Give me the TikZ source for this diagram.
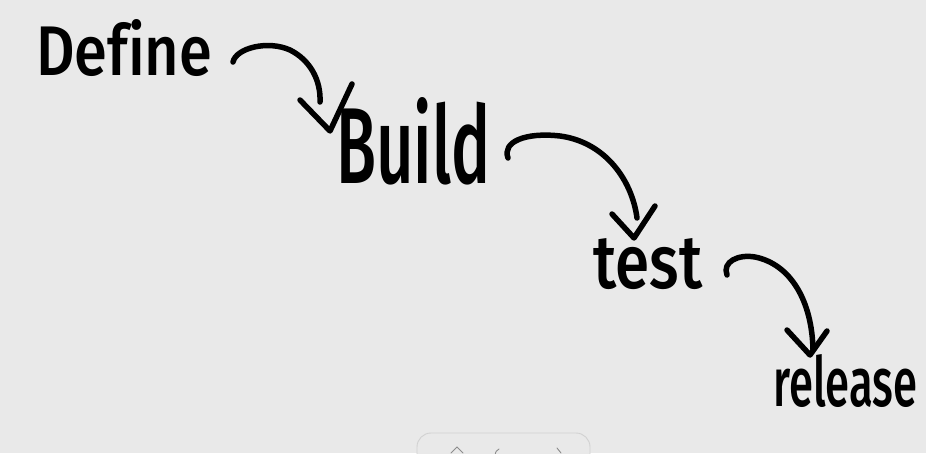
\documentclass[tikz,border=0pt]{standalone}
\usepackage{fontspec}
\setmainfont{Fira Sans}[UprightFont=* Medium,Ligatures=NoCommon]
\usepackage{graphicx}
\begin{document}
\begin{tikzpicture}[x=1pt,y=-1pt,
  ink/.style={line width=5.5pt,line cap=round,line join=round,draw=black},
  word/.style={inner sep=0pt,anchor=base west,text=black},
  ui/.style={draw=black!18,line width=0.9pt,line cap=round}]
\definecolor{paper}{HTML}{E9E9E9}
\fill[paper] (0,0) rectangle (926,453);
\useasboundingbox (0,0) rectangle (926,453);
% words
\node[word] (define) at (36,75) {\resizebox{176pt}{56pt}{Define}};
\node[word] (build) at (336,183) {\resizebox{154pt}{86pt}{Build}};
\node[word] (test) at (593,288) {\resizebox{109pt}{50pt}{test}};
\node[word] (release) at (773,406) {\resizebox{144pt}{52pt}{release}};
% arrows
\coordinate (a1s) at (233,62);
\coordinate (a1e) at (320,102);
\coordinate (a1t) at (330,131);
\draw[ink] (a1s) .. controls (236,48) and (268,40) .. (290,50)
  .. controls (310,60) and (321,80) .. (a1e);
\draw[ink] (300,100) -- (a1t) -- (352,84);
\coordinate (a2s) at (508,158);
\coordinate (a2e) at (637,218);
\coordinate (a2t) at (634,238);
\draw[ink] (a2s) .. controls (502,142) and (525,132) .. (560,136)
  .. controls (605,142) and (632,180) .. (a2e);
\draw[ink] (612,214) -- (a2t) -- (655,206);
\coordinate (a3s) at (727,275);
\coordinate (a3e) at (813,350);
\coordinate (a3t) at (810,355);
\draw[ink] (a3s) .. controls (722,262) and (738,254) .. (755,257)
  .. controls (790,264) and (812,300) .. (a3e);
\draw[ink] (787,330) -- (a3t) -- (827,331);
% partial UI control at the bottom
\draw[ui,fill=paper] (417,460) -- (417,447) arc[start angle=180,end angle=270,radius=14] -- (576,433) arc[start angle=270,end angle=360,radius=14] -- (590,460);
\draw[ui,draw=black!45] (451,453) -- (457,447) -- (463,453);
\draw[ui,draw=black!45] (499,449) .. controls (496,451) .. (495,455);
\draw[ui,draw=black!45] (557,448) -- (561,453);
\end{tikzpicture}
\end{document}
